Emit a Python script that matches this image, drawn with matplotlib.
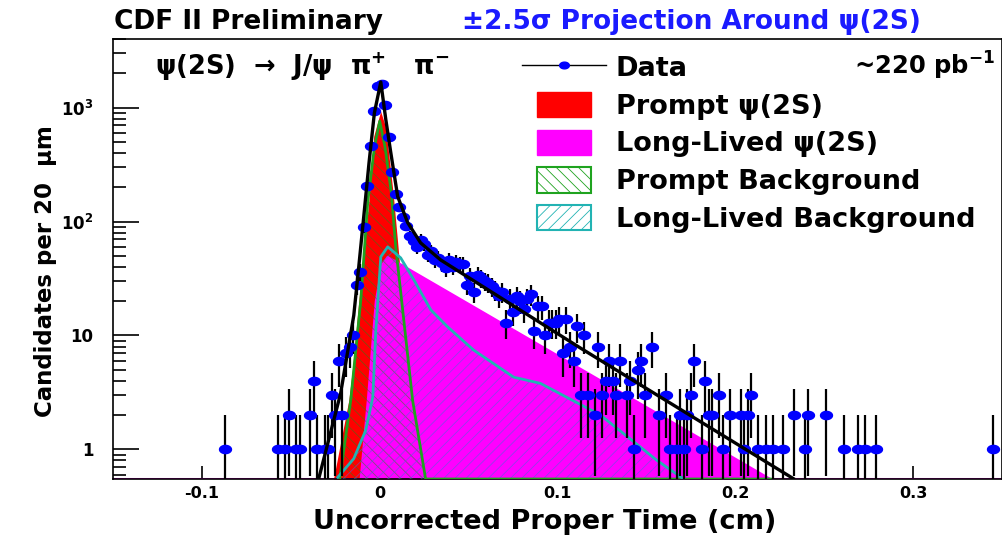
import numpy as np
import matplotlib
matplotlib.use("Agg")
import matplotlib.pyplot as plt
from matplotlib.patches import Rectangle, Patch
from matplotlib.lines import Line2D
from matplotlib.path import Path
from matplotlib.legend_handler import HandlerPatch
from matplotlib.ticker import FixedLocator, FixedFormatter, LogLocator, NullFormatter

plt.rcParams['font.family'] = ['DejaVu Sans']
plt.rcParams['font.weight'] = 'bold'
plt.rcParams['mathtext.fontset'] = 'custom'
plt.rcParams['mathtext.rm'] = 'DejaVu Sans:bold'
plt.rcParams['mathtext.bf'] = 'DejaVu Sans:bold'
plt.rcParams['mathtext.it'] = 'DejaVu Sans:bold'
plt.rcParams['hatch.linewidth'] = 0.6

# binned data: 20 um bins, bin centre (cm) and candidate count
data_x = [
    -0.087, -0.057, -0.053, -0.051, -0.047, -0.045, -0.039, -0.037, -0.035, -0.031,
    -0.029, -0.027, -0.025, -0.023, -0.021, -0.019, -0.017, -0.015, -0.013, -0.011,
    -0.009, -0.007, -0.005, -0.003, -0.001, 0.001, 0.003, 0.005, 0.007, 0.009,
    0.011, 0.013, 0.015, 0.017, 0.019, 0.021, 0.023, 0.025, 0.027, 0.029,
    0.031, 0.033, 0.035, 0.037, 0.039, 0.041, 0.043, 0.045, 0.047, 0.049,
    0.051, 0.053, 0.055, 0.057, 0.059, 0.061, 0.063, 0.065, 0.067, 0.069,
    0.071, 0.073, 0.075, 0.077, 0.079, 0.081, 0.083, 0.085, 0.087, 0.089,
    0.091, 0.093, 0.095, 0.097, 0.099, 0.101, 0.103, 0.105, 0.107, 0.109,
    0.111, 0.113, 0.115, 0.117, 0.121, 0.123, 0.125, 0.127, 0.129, 0.131,
    0.133, 0.135, 0.139, 0.141, 0.143, 0.145, 0.147, 0.149, 0.153, 0.157,
    0.161, 0.163, 0.167, 0.169, 0.171, 0.173, 0.175, 0.177, 0.181, 0.183,
    0.185, 0.187, 0.191, 0.193, 0.197, 0.203, 0.205, 0.207, 0.209, 0.213,
    0.217, 0.221, 0.227, 0.233, 0.239, 0.241, 0.251, 0.261, 0.269, 0.273,
    0.279, 0.345,
]
data_n = [
    1, 1, 1, 2, 1, 1, 2, 4, 1, 1,
    1, 3, 2, 6, 2, 7, 8, 10, 28, 36,
    89, 204, 457, 933, 1550, 1611, 1050, 548, 275, 176,
    135, 110, 92, 74, 67, 60, 69, 63, 51, 55,
    46, 48, 43, 39, 46, 40, 44, 42, 42, 28,
    33, 24, 34, 32, 30, 29, 27, 25, 22, 24,
    13, 21, 16, 22, 20, 17, 21, 23, 11, 18,
    18, 10, 13, 13, 13, 14, 7, 14, 8, 6,
    12, 3, 10, 3, 2, 8, 3, 4, 6, 4,
    3, 6, 3, 4, 1, 5, 6, 3, 8, 2,
    3, 1, 1, 2, 1, 2, 3, 6, 1, 4,
    2, 2, 3, 1, 2, 2, 1, 2, 3, 1,
    1, 1, 1, 2, 1, 2, 2, 1, 1, 1,
    1, 1,
]

# fit components
total_x = [-0.0343, -0.022, -0.0146, -0.0118, -0.009, -0.006, -0.003, 0.0006, 0.0034,
           0.0062, 0.0101, 0.0157, 0.023, 0.0343, 0.1129, 0.2326]
total_y = [0.555, 3.1, 15, 40, 110, 330, 900, 1678, 790,
           405, 166, 98, 65, 46, 7.76, 0.555]

prompt_sig_x = [-0.026, -0.0174, -0.0152, -0.0118, -0.0062, -0.0034, 0.0005, 0.003,
                0.005, 0.0075, 0.0101, 0.013, 0.016, 0.02, 0.023]
prompt_sig_y = [0.55, 2.7, 5.3, 20, 146, 560, 930, 700,
                400, 180, 65, 20, 5, 1, 0.55]

long_sig_x = [-0.0107, -0.0067, -0.0022, 0.0015, 0.0045, 0.2197]
long_sig_y = [0.55, 2.7, 20, 42, 49, 0.55]

prompt_bkg_x = [-0.0225, -0.0163, -0.0107, -0.0067, -0.003, 0.0, 0.003, 0.0065,
                0.009, 0.0185, 0.0258]
prompt_bkg_y = [0.55, 2.7, 20, 150, 450, 760, 450, 180,
                60, 2.7, 0.55]

long_bkg_x = [-0.0236, -0.0146, -0.0079, -0.0039, -0.0022, 0.0006, 0.0045, 0.0118,
              0.0191, 0.0287, 0.0382, 0.0528, 0.0753, 0.0904, 0.1242, 0.156, 0.171]
long_bkg_y = [0.57, 0.83, 1.47, 2.87, 11, 49, 60, 48,
              31, 16.8, 11.9, 7.45, 4.31, 3.8, 2.0, 0.8, 0.55]

X_LO, X_HI = -0.15, 0.35
Y_LO, Y_HI = 0.55, 4000

RED = '#ff0000'
MAGENTA = '#ff00ff'
GREEN = '#1fa31f'
CYAN = '#22b3b3'
BLUE = '#0000ff'


def floored(x, y, x0=X_LO, x1=X_HI):
    # run the curve out to x0/x1, sitting on the floor where it drops below it
    xs = np.concatenate([[x0], x, [x1]])
    ys = np.concatenate([[Y_LO], np.clip(y, Y_LO, None), [Y_LO]])
    return xs, ys


fig = plt.figure(figsize=(10.03, 5.36), dpi=100)
ax = fig.add_axes([0.1127, 0.1063, 0.8863, 0.8209])
ax.set_yscale('log')
ax.set_xlim(X_LO, X_HI)
ax.set_ylim(Y_LO, Y_HI)

xs, ys = floored(prompt_sig_x, prompt_sig_y)
ax.fill_between(xs, Y_LO, ys, color=RED, lw=0, zorder=1)

xs, ys = floored(long_sig_x, long_sig_y)
ax.fill_between(xs, Y_LO, ys, color=MAGENTA, lw=0, zorder=2)
ax.plot(xs, ys, color=MAGENTA, lw=1.5, zorder=2)

xs_pb, ys_pb = floored(prompt_bkg_x, prompt_bkg_y, prompt_bkg_x[0], long_sig_x[-1])
ax.fill_between(xs_pb, Y_LO, ys_pb, facecolor='none', edgecolor=(0.1, 0.55, 0.1, 0.55),
                hatch='\\\\\\', lw=0, zorder=3)
xs_lb, ys_lb = long_bkg_x, long_bkg_y
ax.fill_between(xs_lb, Y_LO, ys_lb, facecolor='none', edgecolor=(0.3, 0.4, 0.85, 0.6),
                hatch='///', lw=0, zorder=3)
ax.plot(xs_pb, ys_pb, color=GREEN, lw=2.0, zorder=4)
ax.plot(xs_lb, ys_lb, color=CYAN, lw=2.0, zorder=4)

# Poisson errors
n = np.array(data_n, dtype=float)
err = np.sqrt(n)
ax.vlines(data_x, np.maximum(n - err, Y_LO * 0.5), n + err, color='black', lw=1.6, zorder=5)

theta = np.linspace(0, 2 * np.pi, 41)
ellipse = Path(np.column_stack([1.45 * np.cos(theta), np.sin(theta)]), closed=True)
ax.plot(data_x, data_n, ls='none', marker=ellipse, ms=8.6, mfc=BLUE, mec=BLUE, zorder=6)

ax.plot(total_x, total_y, color='black', lw=2.4, zorder=7)

# axes in the usual inward-tick style
ax.xaxis.set_major_locator(FixedLocator([-0.1, 0.0, 0.1, 0.2, 0.3]))
ax.xaxis.set_major_formatter(FixedFormatter(['-0.1', '0', '0.1', '0.2', '0.3']))
ax.yaxis.set_major_locator(FixedLocator([1, 10, 100, 1000]))
ax.yaxis.set_major_formatter(FixedFormatter(['1', '10', r'10$^{2}$', r'10$^{3}$']))
ax.yaxis.set_minor_locator(LogLocator(base=10, subs=np.arange(2, 10)))
ax.yaxis.set_minor_formatter(NullFormatter())
ax.tick_params(axis='x', which='major', direction='in', length=9.4, width=1.2,
               top=False, labelsize=11.5, pad=5)
ax.tick_params(axis='x', which='minor', bottom=False, top=False)
ax.tick_params(axis='y', which='major', direction='in', length=18.7, width=1.2,
               right=False, labelsize=12, pad=14)
ax.tick_params(axis='y', which='minor', direction='in', length=9.4, width=1.2, right=False)
for s in ax.spines.values():
    s.set_linewidth(1.2)

fig.text(0.543, 0.026, 'Uncorrected Proper Time (cm)', fontsize=19.5, ha='center',
         va='center')
fig.text(0.045, 0.495, 'Candidates per 20  μm', fontsize=16.5, ha='center', va='center',
         rotation=90)

fig.text(0.114, 0.959, 'CDF II Preliminary', fontsize=19, ha='left', va='center')
fig.text(0.461, 0.959, '±2.5σ Projection Around ψ(2S)', fontsize=19, ha='left',
         va='center', color='#1a1aff')

ax.text(0.047, 0.936, r'ψ(2S)  →  J/ψ  π$^{+}$   π$^{-}$', transform=ax.transAxes,
        fontsize=18.5, ha='left', va='center')
ax.text(0.992, 0.94, r'~220 pb$^{-1}$', transform=ax.transAxes,
        fontsize=17.5, ha='right', va='center')


def inset_box(legend, orig_handle, xdescent, ydescent, width, height, fontsize):
    return Rectangle((-xdescent + 0.18 * width, -ydescent), 0.64 * width, height)


handles = [
    Line2D([], [], color='black', lw=1.0, marker=ellipse, ms=7, mfc=BLUE, mec=BLUE),
    Patch(facecolor=RED, edgecolor=RED),
    Patch(facecolor=MAGENTA, edgecolor=MAGENTA),
    Patch(facecolor='white', edgecolor=GREEN, hatch='\\\\\\', lw=1.5),
    Patch(facecolor='white', edgecolor=CYAN, hatch='///', lw=1.5),
]
labels = ['Data', 'Prompt ψ(2S)', 'Long-Lived ψ(2S)', 'Prompt Background',
          'Long-Lived Background']
box = HandlerPatch(patch_func=inset_box)
ax.legend(handles, labels, loc='upper left', bbox_to_anchor=(0.46, 0.966), frameon=False,
          fontsize=19.5, handlelength=3.1, handleheight=1.05, labelspacing=0.37,
          handletextpad=0.36, borderpad=0, borderaxespad=0,
          handler_map={Patch: box})

fig.savefig('out.png', dpi=100)
